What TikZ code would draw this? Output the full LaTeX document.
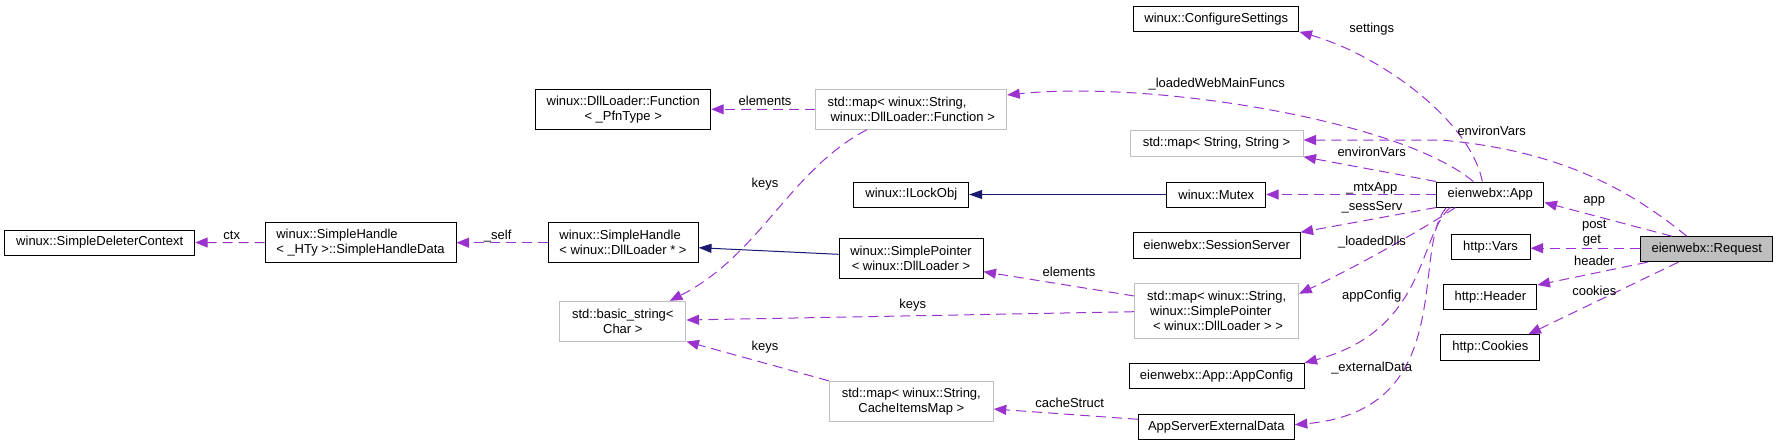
\documentclass[tikz,border=0pt]{standalone}
\usepackage{fontspec}
\setmainfont{Liberation Sans}
\usetikzlibrary{arrows.meta}
\definecolor{memc}{HTML}{9A32CD}
\definecolor{inhc}{HTML}{191970}
\definecolor{grey75}{HTML}{BFBFBF}
\begin{document}
\begin{tikzpicture}[x=1pt,y=-1pt,
  font=\fontsize{13}{15}\selectfont,
  cls/.style={draw=black, line width=1pt, fill=white, inner sep=0pt, align=center},
  gcls/.style={cls, draw=grey75},
  lbl/.style={inner sep=0pt, anchor=base},
  memb/.style={draw=memc, line width=1pt, dash pattern=on 10pt off 6pt, -{Triangle[length=12.5pt,width=10pt,fill=memc]}},
  inh/.style={draw=inhc, line width=1pt, -{Triangle[length=13pt,width=9pt,fill=inhc]}}]
\useasboundingbox (0,0) rectangle (1779,445);

% nodes
\node[cls, minimum width=190pt, minimum height=25pt] (sdc) at (99.7,242.5) {winux::SimpleDeleterContext};
\node[cls, align=left, minimum width=191pt, minimum height=40pt] (shd) at (360.5,242.7) {winux::SimpleHandle\\< \_HTy >::SimpleHandleData};
\node[cls, align=left, minimum width=150pt, minimum height=40pt] (shdll) at (623,242.7) {winux::SimpleHandle\\< winux::DllLoader * >};
\node[cls, minimum width=175pt, minimum height=40pt] (dlfn) at (623.2,109.3) {winux::DllLoader::Function\\< \_PfnType >};
\node[gcls, align=left, minimum width=191pt, minimum height=40pt] (mapfn) at (911.2,109.3) {std::map< winux::String,\\\hspace*{3pt}winux::DllLoader::Function >};
\node[cls, minimum width=114.7pt, minimum height=25pt] (ilock) at (911.3,194.5) {winux::ILockObj};
\node[cls, minimum width=165.3pt, minimum height=25.3pt] (cs) at (1216.3,18.7) {winux::ConfigureSettings};
\node[gcls, minimum width=173pt, minimum height=25.6pt] (mapss) at (1216.5,143.5) {std::map< String, String >};
\node[cls, minimum width=98.7pt, minimum height=25pt] (mutex) at (1216.3,194.5) {winux::Mutex};
\node[cls, minimum width=107.3pt, minimum height=25pt] (app) at (1490.3,194.5) {eienwebx::App};
\node[cls, minimum width=166.7pt, minimum height=26pt] (ss) at (1216.7,245.3) {eienwebx::SessionServer};
\node[cls, minimum width=144pt, minimum height=40pt] (sp) at (911,258.7) {winux::SimplePointer\\< winux::DllLoader >};
\node[gcls, minimum width=126.3pt, minimum height=39.7pt] (bstr) at (622.8,321.2) {std::basic\_string<\\Char >};
\node[gcls, minimum width=164pt, minimum height=40pt] (ci) at (911.3,401.3) {std::map< winux::String,\\CacheItemsMap >};
\node[gcls, align=left, minimum width=164pt, minimum height=54.7pt] (mapsp) at (1216.7,310.7) {std::map< winux::String,\\\hspace*{3pt}winux::SimplePointer\\\hspace*{6pt}< winux::DllLoader > >};
\node[cls, minimum width=93.3pt, minimum height=25.3pt] (header) at (1490.3,297.3) {http::Header};
\node[cls, minimum width=99.3pt, minimum height=25.6pt] (cookies) at (1490.3,347.5) {http::Cookies};
\node[cls, minimum width=175pt, minimum height=25.3pt] (appcfg) at (1216.5,376) {eienwebx::App::AppConfig};
\node[cls, minimum width=156pt, minimum height=25.3pt] (ased) at (1216.3,426.7) {AppServerExternalData};
\node[cls, minimum width=79pt, minimum height=25.3pt] (vars) at (1490.5,246.7) {http::Vars};
\node[cls, fill=grey75, minimum width=131.7pt, minimum height=25pt] (req) at (1706.8,249.2) {eienwebx::Request};

% inheritance
\draw[inh] ([yshift=4.4pt]sp.west) -- ([yshift=-5pt]shdll.east);
\draw[inh] (mutex.west) -- (ilock.east);

% members
\draw[memb] (shd.west) -- (sdc.east);
\draw[memb] (shdll.west) -- (shd.east);
\draw[memb] (mapfn.west) -- (dlfn.east);
\draw[memb] ([xshift=-44.5pt]mapfn.south) .. controls (790,170) and (760,255) .. ([xshift=47pt]bstr.north);
\draw[memb] ([yshift=14.7pt]mapsp.west) -- ([yshift=-13pt]sp.east);
\draw[memb] ([yshift=-1pt]mapsp.west) -- ([yshift=1.2pt]bstr.east);
\draw[memb] (ci.north west) -- (bstr.south east);
\draw[memb] ([yshift=7.4pt]ased.west) -- ([yshift=-7.7pt]ci.east);
\draw[memb] (app.west) -- (mutex.east);
\draw[memb] (app.north west) -- (mapss.south east);
\draw[memb] ([xshift=-8pt]app.north) .. controls (1470,120) and (1380,55) .. (cs.south east);
\draw[memb] ([xshift=-17pt]app.north) .. controls (1400,120) and (1150,80) .. ([yshift=14.3pt]mapfn.east);
\draw[memb] ([xshift=-20pt]req.north) .. controls (1630,190) and (1560,150) .. (1440,140) -- ([yshift=3.5pt]mapss.east);
\draw[memb] ([xshift=-35pt]req.north) -- ([yshift=-8pt]app.east);
\draw[memb] ([yshift=1pt]req.west) -- ([yshift=1pt]req.west -| vars.east);
\draw[memb] ([xshift=7pt]req.south west) -- ([yshift=12.3pt]header.east);
\draw[memb] ([xshift=-28.5pt]req.south) -- ([xshift=-12pt]cookies.north east);
\draw[memb] (app.south west) -- ([yshift=13pt]ss.east);
\draw[memb] ([xshift=-35pt]app.south) .. controls (1430,225) and (1360,265) .. ([yshift=17pt]mapsp.east);
\draw[memb] ([xshift=-40pt]app.south) .. controls (1418,235) and (1428,330) .. (appcfg.north east);
\draw[memb] ([xshift=-44pt]app.south) .. controls (1410,250) and (1460,410) .. ([yshift=2pt]ased.east);

% labels
\node[lbl] (lctx) at (231.7,239.3) {ctx};
\node[lbl] (lself) at (497.7,239.3) {\_self};
\node[lbl] (lel1) at (765,105.7) {elements};
\node[lbl] (lk1) at (765,187) {keys};
\node[lbl] (lel2) at (1069,276.7) {elements};
\node[lbl] (lk2) at (912.7,308.7) {keys};
\node[lbl] (lk3) at (765,350.7) {keys};
\node[lbl] (lcache) at (1069.7,407.7) {cacheStruct};
\node[lbl] (lmtx) at (1371.7,191) {\_mtxApp};
\node[lbl] (lset) at (1371.7,32.3) {settings};
\node[lbl] (lwmf) at (1216.7,87.3) {\_loadedWebMainFuncs};
\node[lbl] (lenv1) at (1491.7,135.7) {environVars};
\node[lbl] (lenv2) at (1371.7,156.7) {environVars};
\node[lbl] (lapp) at (1594.3,203.3) {app};
\node[lbl] (lpost) at (1594.3,228.3) {post};
\node[lbl] (lget) at (1592,243.3) {get};
\node[lbl] (lhdr) at (1594.3,265) {header};
\node[lbl] (lcook) at (1594.3,295) {cookies};
\node[lbl] (lsess) at (1372,210.7) {\_sessServ};
\node[lbl] (ldlls) at (1372,245) {\_loadedDlls};
\node[lbl] (lcfg) at (1371.7,299) {appConfig};
\node[lbl] (lext) at (1371.7,371.7) {\_externalData};
\end{tikzpicture}
\end{document}
